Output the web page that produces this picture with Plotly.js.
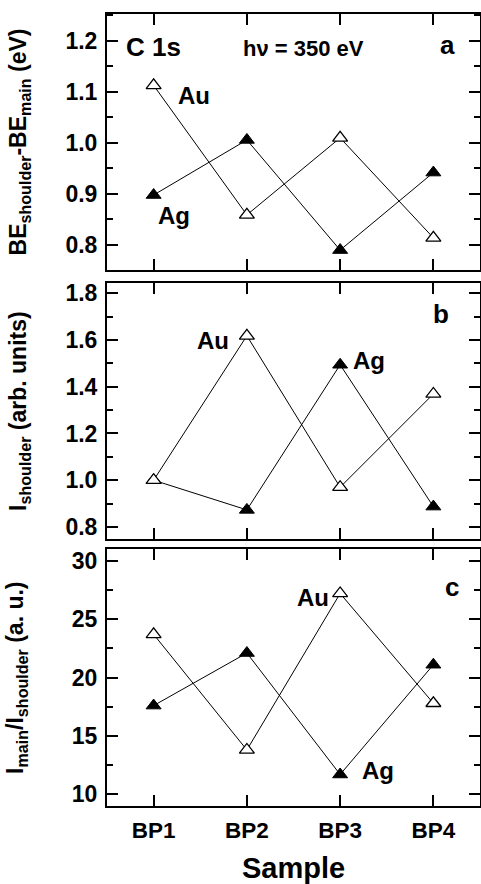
<!DOCTYPE html>
<html>
<head>
<meta charset="utf-8">
<script src="https://cdn.plot.ly/plotly-3.0.1.min.js"></script>
<style>html,body{margin:0;padding:0;background:#fff;}#chart{width:481px;height:884px;}</style>
</head>
<body>
<div id="chart"></div>
<script>
// ---- data ----
const samples = ['BP1', 'BP2', 'BP3', 'BP4'];
const auDeltaBE = [1.113, 0.859, 1.010, 0.814];
const agDeltaBE = [0.898, 1.006, 0.790, 0.942];
const auIShoulder = [1.000, 1.618, 0.970, 1.369];
const agIShoulder = [1.000, 0.873, 1.494, 0.887];
const auRatio = [23.7, 13.8, 27.2, 17.8];
const agRatio = [17.6, 22.1, 11.7, 21.1];

const FONT = 'Liberation Sans, Arial, Helvetica, sans-serif';

function agTrace(y, xa, ya) {
  return {x: samples, y: y, xaxis: xa, yaxis: ya, type: 'scatter', mode: 'lines+markers', name: 'Ag',
    line: {color: '#000', width: 1},
    marker: {symbol: 'triangle-up', size: 13, color: '#000', line: {color: '#000', width: 1}},
    showlegend: false, hoverinfo: 'skip'};
}
function auTrace(y, xa, ya) {
  return {x: samples, y: y, xaxis: xa, yaxis: ya, type: 'scatter', mode: 'lines+markers', name: 'Au',
    line: {color: '#000', width: 1},
    marker: {symbol: 'triangle-up', size: 13, color: '#fff', line: {color: '#000', width: 1.3}},
    showlegend: false, hoverinfo: 'skip'};
}

const data = [
  agTrace(agDeltaBE, 'x', 'y'), auTrace(auDeltaBE, 'x', 'y'),
  agTrace(agIShoulder, 'x2', 'y2'), auTrace(auIShoulder, 'x2', 'y2'),
  agTrace(agRatio, 'x3', 'y3'), auTrace(auRatio, 'x3', 'y3')
];

function xAxis(anchor, showLabels) {
  return {
    anchor: anchor, domain: [0, 1], type: 'category', range: [-0.5, 3.5],
    showline: true, linecolor: '#000', linewidth: 2, mirror: 'ticks',
    ticks: 'inside', ticklen: 11, tickwidth: 2, tickcolor: '#000',
    showgrid: false, zeroline: false, showticklabels: showLabels,
    tickfont: {family: FONT, size: 22.5, color: '#000', weight: 'bold'},
    fixedrange: true
  };
}
function yAxis(anchor, domain, range, dtick, minorDtick, fmt, title, standoff) {
  return {
    anchor: anchor, domain: domain, range: range, dtick: dtick, tick0: 0,
    tickformat: fmt,
    showline: true, linecolor: '#000', linewidth: 2, mirror: 'ticks',
    ticks: 'inside', ticklen: 11, tickwidth: 2, tickcolor: '#000',
    minor: {dtick: minorDtick, tick0: 0, ticks: 'inside', ticklen: 6, tickwidth: 2, tickcolor: '#000', showgrid: false},
    showgrid: false, zeroline: false,
    tickfont: {family: FONT, size: 23, color: '#000', weight: 'bold'},
    ticklabelstandoff: 3,
    title: {text: title, font: {family: FONT, size: 23, color: '#000'}, standoff: standoff},
    fixedrange: true
  };
}

function label(xr, yr, x, y, text, size) {
  return {xref: xr, yref: yr, x: x, y: y, xanchor: 'center', yanchor: 'middle', text: '<b>' + text + '</b>',
    showarrow: false, font: {family: FONT, size: size, color: '#000'}};
}

const layout = {
  width: 481, height: 884,
  margin: {l: 107, r: 1, t: 0, b: 0},
  paper_bgcolor: '#fff', plot_bgcolor: '#fff',
  font: {family: FONT, color: '#000'},
  xaxis: xAxis('y', false),
  xaxis2: xAxis('y2', false),
  xaxis3: Object.assign(xAxis('y3', true), {
    ticklabelstandoff: 3,
    title: {text: '<b>Sample</b>', font: {family: FONT, size: 29, color: '#000'}, standoff: 21}
  }),
  yaxis: yAxis('x', [0.6946, 0.9842], [0.751, 1.253], 0.1, 0.05, '.1f',
    '<b>BE<sub>shoulder</sub>-BE<sub>main</sub> (eV)</b>', 32),
  yaxis2: yAxis('x2', [0.3899, 0.6799], [0.747, 1.844], 0.2, 0.1, '.1f',
    '<b>I<sub>shoulder</sub> (arb. units)</b>', 32),
  yaxis3: yAxis('x3', [0.0882, 0.3786], [9.0, 30.98], 5, 2.5, 'd',
    '<b>I<sub>main</sub>/I<sub>shoulder</sub> (a. u.)</b>', 42),
  annotations: [
    label('x domain', 'y domain', 0.126, 0.871, 'C 1s', 26),
    label('x domain', 'y domain', 0.527, 0.867, 'hν = 350 eV', 22),
    label('x domain', 'y domain', 0.914, 0.88, 'a', 26),
    label('x domain', 'y domain', 0.232, 0.680, 'Au', 24),
    label('x domain', 'y domain', 0.180, 0.211, 'Ag', 24),
    label('x2 domain', 'y2 domain', 0.895, 0.88, 'b', 26),
    label('x2 domain', 'y2 domain', 0.284, 0.774, 'Au', 24),
    label('x2 domain', 'y2 domain', 0.702, 0.698, 'Ag', 24),
    label('x3 domain', 'y3 domain', 0.925, 0.855, 'c', 26),
    label('x3 domain', 'y3 domain', 0.552, 0.814, 'Au', 24),
    label('x3 domain', 'y3 domain', 0.727, 0.140, 'Ag', 24)
  ]
};

Plotly.newPlot('chart', data, layout, {displayModeBar: false, staticPlot: true});
</script>
</body>
</html>
